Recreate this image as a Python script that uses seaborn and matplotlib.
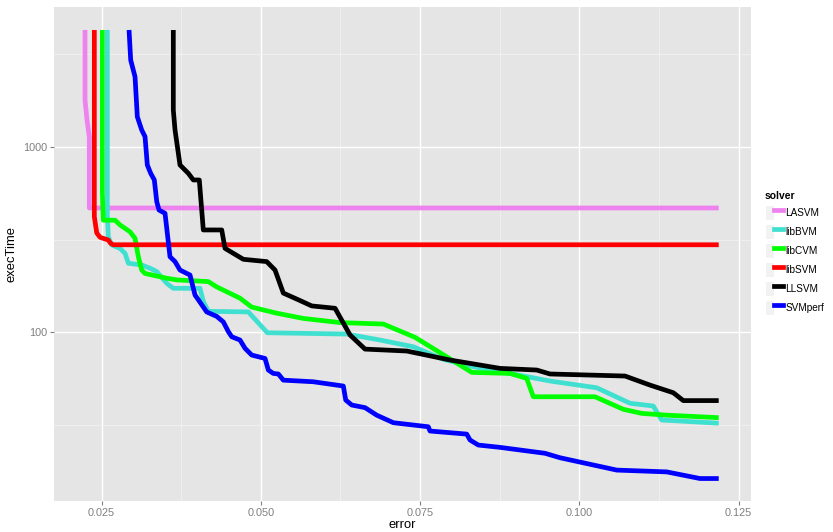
import numpy as np
import pandas as pd
import matplotlib
matplotlib.use("Agg")
import matplotlib.pyplot as plt
import seaborn as sns
from matplotlib.ticker import FixedLocator, FuncFormatter
from matplotlib.lines import Line2D
from matplotlib.patches import Rectangle
from matplotlib.legend_handler import HandlerTuple

# ---- data ----
solvers = ["LASVM", "libBVM", "libCVM", "libSVM", "LLSVM", "SVMperf"]
colors = ["#EE82EE", "#40E0D0", "#00FF00", "#FF0000", "#000000", "#0000FF"]

lasvm_err = [0.02241, 0.02241, 0.02272, 0.02308, 0.02308, 0.12189]
lasvm_t = [4276, 1793, 1398, 1132, 469, 469]

libsvm_err = [0.02387, 0.02387, 0.02425, 0.02476, 0.02607, 0.02644, 0.02685, 0.12189]
libsvm_t = [4276, 421, 344, 326, 315, 302, 297, 297]

libcvm_err = [0.02513, 0.02513, 0.02528, 0.02712, 0.02790, 0.02947, 0.03026, 0.03078,
              0.03131, 0.03183, 0.03524, 0.03681, 0.04177, 0.04309, 0.04674, 0.04858,
              0.05250, 0.05668, 0.06244, 0.06924, 0.07422, 0.07919, 0.08312, 0.08913,
              0.09175, 0.09279, 0.10247, 0.10692, 0.10980, 0.11373, 0.12189]
libcvm_t = [4276, 565, 403, 403, 380, 349, 322, 256, 217, 208, 196, 192, 188, 176,
            153, 137, 127, 119, 113, 111, 94.1, 73.9, 60.9, 60.1, 56.5, 45.0, 45.0,
            38.5, 36.6, 35.8, 34.7]

libbvm_err = [0.02591, 0.02591, 0.02607, 0.02660, 0.02790, 0.02869, 0.02921, 0.03131,
              0.03261, 0.03367, 0.03524, 0.03627, 0.04046, 0.04098, 0.04177, 0.04805,
              0.05103, 0.06349, 0.06872, 0.07395, 0.07866, 0.08337, 0.08913, 0.09541,
              0.10274, 0.10797, 0.11162, 0.11294, 0.12189]
libbvm_t = [4276, 430, 328, 296, 284, 267, 236, 231, 222, 213, 184, 173, 173, 147,
            130, 129, 99.6, 98.0, 91.0, 83.7, 71.6, 65.3, 60.1, 54.7, 50.3, 41.5,
            40.1, 33.7, 32.4]

llsvm_err = [0.03627, 0.03627, 0.03654, 0.03732, 0.03863, 0.03941, 0.04035, 0.04098,
             0.04387, 0.04439, 0.04726, 0.05093, 0.05224, 0.05354, 0.05590, 0.05800,
             0.06166, 0.06401, 0.06637, 0.07291, 0.07971, 0.08756, 0.09332, 0.09541,
             0.10718, 0.11111, 0.11476, 0.11633, 0.12189]
llsvm_t = [4276, 1583, 1235, 800, 721, 664, 664, 357, 357, 284, 248, 241, 217, 163,
           150, 139, 135, 96.9, 81.3, 79.4, 71.0, 64.0, 62.7, 59.7, 58.2, 52.0, 47.3,
           42.9, 42.9]

svmperf_err = [0.02932, 0.02958, 0.03026, 0.03062, 0.03131, 0.03183, 0.03219, 0.03272,
               0.03329, 0.03367, 0.03403, 0.03497, 0.03575, 0.03654, 0.03732, 0.03889,
               0.03968, 0.04020, 0.04151, 0.04309, 0.04412, 0.04491, 0.04544, 0.04674,
               0.04753, 0.04858, 0.05067, 0.05119, 0.05197, 0.05276, 0.05354, 0.05825,
               0.06296, 0.06334, 0.06428, 0.06637, 0.06820, 0.07081, 0.07630, 0.07657,
               0.08233, 0.08285, 0.08415, 0.08756, 0.09462, 0.09698, 0.10588, 0.11373,
               0.11895, 0.12189]
svmperf_t = [4276, 2944, 2393, 1456, 1235, 1137, 800, 721, 664, 507,
             457, 439, 256, 241, 217, 204, 159, 150, 129, 122,
             114, 101, 94.8, 91.0, 82.1, 75.5, 72.4, 62.7, 60.1, 59.7,
             55.3, 54.2, 51.4, 43.2, 40.6, 39.3, 35.8, 32.6, 31.0, 29.4,
             28.3, 26.3, 24.7, 24.0, 22.3, 21.1, 18.1, 17.7, 16.3, 16.3]

x_ticks = [0.025, 0.050, 0.075, 0.100, 0.125]
y_ticks = [100, 1000]

series = {
    "LASVM": (lasvm_err, lasvm_t),
    "libBVM": (libbvm_err, libbvm_t),
    "libCVM": (libcvm_err, libcvm_t),
    "libSVM": (libsvm_err, libsvm_t),
    "LLSVM": (llsvm_err, llsvm_t),
    "SVMperf": (svmperf_err, svmperf_t),
}
rows = []
for s in solvers:
    e, t = series[s]
    for i, (a, b) in enumerate(zip(e, t)):
        rows.append({"solver": s, "error": a, "execTime": b, "order": i})
df = pd.DataFrame(rows)

# ---- figure ----
plt.rcParams["font.family"] = ["Liberation Sans", "DejaVu Sans"]
fig = plt.figure(figsize=(8.33, 5.32), dpi=100)
ax = fig.add_axes([54 / 833, 1 - 501 / 532, (751 - 54) / 833, (501 - 7) / 532])
ax.set_facecolor("#E5E5E5")

palette = dict(zip(solvers, colors))
sns.lineplot(data=df, x="error", y="execTime", hue="solver", hue_order=solvers,
             palette=palette, estimator=None, sort=False, units="solver",
             linewidth=3.4, ax=ax, legend=False)
for ln in ax.get_lines():
    ln.set_solid_capstyle("butt")
    ln.set_solid_joinstyle("round")

ax.set_yscale("log")
ax.set_xlim(0.01754, 0.12696)
ax.set_ylim(10 ** 1.091, 10 ** 3.755)

ax.xaxis.set_major_locator(FixedLocator(x_ticks))
ax.xaxis.set_major_formatter(FuncFormatter(lambda v, p: f"{v:.3f}"))
ax.xaxis.set_minor_locator(FixedLocator([0.0375, 0.0625, 0.0875, 0.1125]))
ax.yaxis.set_major_locator(FixedLocator(y_ticks))
ax.yaxis.set_major_formatter(FuncFormatter(lambda v, p: f"{v:.0f}"))
ax.yaxis.set_minor_locator(FixedLocator([10 ** 1.5, 10 ** 2.5, 10 ** 3.5]))
ax.yaxis.set_minor_formatter(FuncFormatter(lambda v, p: ""))

ax.grid(which="major", color="white", linewidth=1.0)
ax.grid(which="minor", color="#F2F2F2", linewidth=0.6)
ax.set_axisbelow(True)
for sp in ax.spines.values():
    sp.set_visible(False)
ax.tick_params(which="major", length=3, width=0.8, color="#7F7F7F",
               labelcolor="#7F7F7F", labelsize=7.8, pad=2)
ax.tick_params(which="minor", length=0)

ax.set_xlabel("error", fontsize=9.4, labelpad=0.5)
ax.set_ylabel("execTime", fontsize=9.4, labelpad=4)

# legend
handles = []
for s, c in zip(solvers, colors):
    box = Rectangle((0, 0), 1, 1, facecolor="#F2F2F2", edgecolor="white", linewidth=0.8)
    line = Line2D([0], [0], color=c, linewidth=3.4)
    handles.append((box, line))
leg = fig.legend(handles, solvers, handler_map={tuple: HandlerTuple(ndivide=None)},
                 loc="upper left", bbox_to_anchor=(765 / 833, 1 - 191 / 532),
                 frameon=False, title="solver", fontsize=7.2, title_fontsize=7.4,
                 handlelength=1.75, handleheight=2.0, labelspacing=0.36,
                 handletextpad=0.3, borderpad=0.0, borderaxespad=0.0)
leg.get_title().set_fontweight("bold")
leg._legend_box.align = "left"

fig.savefig("out.png", dpi=100)
